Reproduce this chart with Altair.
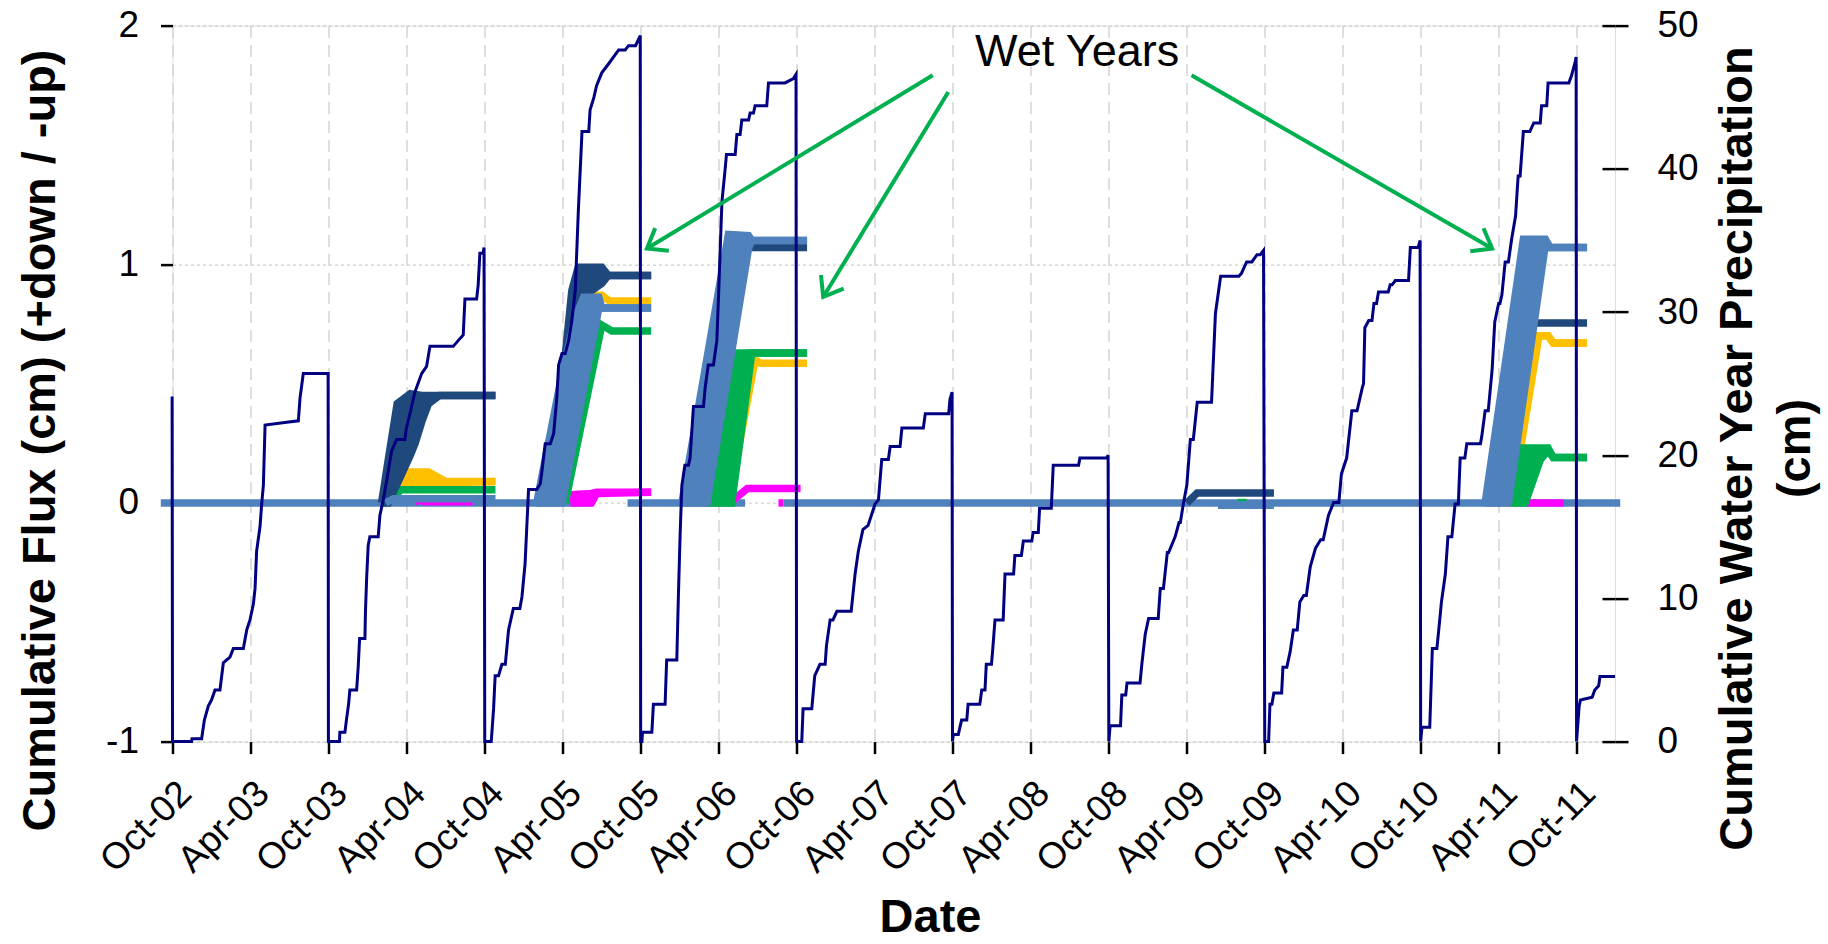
import altair as alt
import pandas as pd

# ------------------------------------------------------------------
# Values.
# Months (m) are counted from 1 October of the given water-year start.
# ------------------------------------------------------------------
BASE = "2002-10-01"
x_end = (2011, 12, 30)

tick_months = [(2002, 10), (2003, 4), (2003, 10), (2004, 4), (2004, 10), (2005, 4),
               (2005, 10), (2006, 4), (2006, 10), (2007, 4), (2007, 10), (2008, 4),
               (2008, 10), (2009, 4), (2009, 10), (2010, 4), (2010, 10), (2011, 4),
               (2011, 10)]
flux_ticks = [-1, 0, 1, 2]
prec_ticks = [0, 10, 20, 30, 40, 50]

# ---- cumulative water-year precipitation (cm) ----
wy_starts = ["2002-10-01", "2003-10-01", "2004-10-01", "2005-10-01", "2006-10-01",
             "2007-10-01", "2008-10-01", "2009-10-01", "2010-10-01", "2011-10-01"]

p03_m = [-0.03, 0, 1.47, 1.5, 2.24, 2.45, 2.76, 3.0, 3.27, 3.65, 3.91, 4.42, 4.68, 5.45, 5.71,
         5.96, 6.22, 6.35, 6.47, 6.73, 6.86, 6.99, 7.12, 8.78, 9.68, 9.81, 10.06, 11.97]
p03_v = [24.1, 0, 0, 0.2, 0.2, 1.5, 2.5, 2.9, 3.6, 3.6, 5.5, 5.9, 6.5, 6.5, 7.8,
         8.5, 9.6, 10.7, 13.3, 15.0, 16.6, 17.9, 22.1, 22.3, 22.4, 24.0, 25.7, 25.7]
p04_m = [0, 0.85, 0.88, 1.27, 1.4, 1.55, 1.65, 2.17, 2.29, 2.4, 2.81, 2.85, 2.94, 3.06, 3.19,
         3.83, 3.96, 4.22, 4.48, 4.86, 5.25, 5.88, 6.0, 6.3, 6.65, 7.17, 7.55, 7.81, 9.6, 9.98,
         10.37, 10.5, 11.4, 11.52, 11.65, 11.9, 11.97]
p04_v = [0, 0, 0.65, 0.65, 1.6, 2.6, 3.6, 3.6, 5.2, 7.2, 7.2, 9.1, 11.4, 13.7, 14.3,
         14.3, 15.8, 16.9, 18.2, 20.3, 21.1, 21.1, 21.9, 23.0, 24.4, 25.7, 26.2, 27.6, 27.6, 28.0,
         28.4, 30.9, 30.9, 31.9, 34.1, 34.1, 34.5]
p05_m = [0, 0.5, 0.68, 0.8, 1.06, 1.32, 1.58, 1.83, 2.2, 2.7, 2.86, 3.1, 3.25, 3.37, 4.0,
         4.27, 4.4, 4.65, 5.04, 5.3, 5.55, 5.68, 5.94, 6.19, 6.45, 6.7, 6.96, 7.2, 7.48, 8.0,
         8.1, 8.4, 8.6, 9.0, 9.5, 10.3, 10.8, 11.06, 11.6, 11.96]
p05_v = [0, 0, 2.3, 4.6, 4.6, 5.4, 5.4, 7.8, 9.3, 9.3, 10.1, 12.4, 15.3, 17.6, 17.6,
         18.0, 18.9, 20.8, 20.8, 21.5, 24.1, 26.3, 27.1, 27.1, 28.0, 29.4, 31.5, 37.1, 42.6, 42.6,
         44.1, 45.0, 45.8, 46.7, 47.3, 48.3, 48.3, 48.6, 48.6, 49.3]
p06_m = [0, 0.1, 0.14, 0.86, 0.98, 1.88, 2.0, 2.78, 2.9, 3.04, 3.17, 3.4, 3.68, 3.8, 4.06,
         4.83, 4.96, 5.2, 5.6, 5.86, 5.98, 6.25, 6.5, 6.6, 7.27, 7.4, 7.65, 7.78, 8.3, 8.42,
         8.68, 8.8, 9.7, 9.83, 11.1, 11.75, 11.95]
p06_v = [0, 0, 0.65, 0.65, 2.6, 2.6, 5.7, 5.7, 10.1, 14.6, 17.9, 19.3, 19.3, 19.8, 23.4,
         23.4, 24.7, 26.3, 26.3, 28.0, 30.9, 37.7, 40.0, 41.0, 41.0, 42.4, 42.4, 43.4, 43.4, 43.9,
         43.9, 44.4, 44.4, 46.0, 46.0, 46.3, 46.6]
p07_m = [0, 0.4, 0.5, 1.17, 1.4, 1.8, 2.2, 2.3, 2.58, 2.8, 3.1, 4.2, 4.5, 4.75, 5.1, 5.5,
         6.04, 6.3, 6.55, 7.06, 7.2, 7.96, 8.1, 9.75, 9.9, 11.7, 11.8, 11.96]
p07_v = [0, 0, 2.3, 2.3, 4.6, 5.4, 5.4, 6.7, 8.5, 8.5, 9.1, 9.1, 11.7, 13.3, 14.8, 15.1,
         16.6, 16.9, 19.7, 19.7, 20.6, 20.6, 21.9, 21.9, 22.9, 22.9, 23.9, 24.4]
p08_m = [0, 0.06, 0.45, 0.7, 1.1, 1.2, 2.1, 2.25, 2.5, 2.6, 3.0, 3.1, 3.27, 3.9, 4.04,
         4.7, 4.8, 5.3, 5.45, 6.1, 6.2, 6.6, 6.7, 7.6, 7.75, 9.7, 9.8, 11.86, 11.97]
p08_v = [0, 0.5, 0.5, 1.5, 1.5, 2.6, 2.6, 3.6, 3.6, 5.4, 5.4, 6.5, 8.5, 8.5, 11.7,
         11.7, 13.0, 13.0, 14.0, 14.0, 14.6, 14.6, 16.3, 16.3, 19.3, 19.3, 19.8, 19.8, 20.0]
p09_m = [0, 0.1, 0.9, 1.0, 1.3, 1.4, 2.4, 2.55, 2.8, 3.06, 3.8, 3.96, 4.2, 4.5, 4.6, 5.1,
         5.4, 5.5, 5.75, 6.0, 6.27, 6.5, 6.8, 7.9, 8.2, 8.6, 10.0, 10.2, 10.6, 11.0, 11.4,
         11.65, 11.9]
p09_v = [0, 1.1, 1.1, 3.25, 3.25, 4.1, 4.1, 5.5, 7.5, 8.6, 8.6, 10.7, 10.7, 13.2, 13.2, 14.3,
         15.3, 15.3, 16.7, 17.9, 21.1, 21.1, 23.7, 23.7, 29.9, 32.5, 32.5, 32.7, 33.5, 33.5, 34.0,
         34.0, 34.3]
p10_m = [0, 0.3, 0.4, 0.55, 0.7, 1.3, 1.4, 1.7, 1.96, 2.2, 2.5, 2.7, 3.0, 3.2, 3.5, 3.9,
         4.3, 4.5, 4.9, 5.3, 5.7, 5.9, 6.3, 6.7, 7.1, 7.5, 7.6, 7.7, 8.0, 8.25, 8.4, 8.6,
         8.75, 9.5, 9.65, 9.8, 10.04, 11.06, 11.2, 11.8, 11.95]
p10_v = [0, 0, 2.6, 2.6, 3.4, 3.4, 5.2, 5.2, 6.3, 7.8, 7.8, 9.75, 10.2, 10.2, 12.2, 13.5,
         14.1, 14.1, 15.8, 16.7, 16.7, 18.7, 19.8, 23.1, 23.1, 24.7, 25.0, 28.9, 29.4, 29.4, 30.6,
         30.6, 31.4, 31.4, 31.9, 31.9, 32.2, 32.2, 34.5, 34.5, 35.0]
p11_m = [0, 0.1, 0.7, 0.9, 1.25, 1.5, 1.6, 1.9, 2.1, 2.4, 2.65, 2.9, 3.04, 3.4, 3.55, 4.6,
         4.7, 4.96, 5.2, 5.5, 5.7, 6.0, 6.1, 6.25, 6.5, 6.75, 7.0, 7.3, 7.5, 7.65, 7.9, 8.4,
         8.7, 9.2, 9.3, 9.7, 9.8, 11.4, 11.6, 11.9, 11.96]
p11_v = [0, 1.0, 1.0, 6.5, 6.5, 8.8, 9.75, 11.7, 14.3, 14.3, 16.6, 16.6, 19.8, 19.8, 20.8, 20.8,
         21.3, 23.1, 23.1, 26.0, 29.3, 30.6, 30.6, 31.2, 33.5, 33.5, 35.1, 36.7, 39.5, 39.5, 42.6,
         42.6, 43.2, 43.2, 44.4, 44.4, 46.0, 46.0, 46.5, 47.5, 47.8]
p12_m = [0, 0.2, 0.3, 1.2, 1.4, 1.7, 1.8, 2.96]
p12_v = [0, 2.5, 2.9, 3.1, 3.6, 3.9, 4.55, 4.55]

prec_m = [p03_m, p04_m, p05_m, p06_m, p07_m, p08_m, p09_m, p10_m, p11_m, p12_m]
prec_v = [p03_v, p04_v, p05_v, p06_v, p07_v, p08_v, p09_v, p10_v, p11_v, p12_v]

# ---- cumulative flux (cm): bands (upper edge / lower edge) ----
navy04_m = [4.09, 4.6, 5.29, 6.3, 6.67, 7.18, 7.7, 8.55, 12.85]
navy04_hi = [0, 0.18, 0.416, 0.458, 0.455, 0.45, 0.45, 0.45, 0.45]
navy04_lo = [0, 0, 0.08, 0.2, 0.25, 0.34, 0.416, 0.45, 0.45]
gold04_m = [4.5, 5.7, 7.7, 9.04, 12.85]
gold04_hi = [0, 0.13, 0.13, 0.09, 0.09]
gold04_lo = [0, 0.07, 0.08, 0.085, 0.09]

navy05_m = [4.27, 5.68, 6.7, 7.1, 7.2, 9.0, 9.5, 12.8]
navy05_hi = [0, 0.345, 0.89, 0.97, 0.988, 0.988, 0.953, 0.953]
navy05_lo = [0, 0.05, 0.5, 0.75, 0.85, 0.92, 0.953, 0.953]
steel05_m = [4.0, 5.94, 6.96, 7.6, 8.77, 9.0, 12.8]
steel05_hi = [0, 0.54, 0.774, 0.862, 0.862, 0.817, 0.817]
steel05_lo = [0, 0, 0.294, 0.479, 0.817, 0.817, 0.817]
mag05_m = [6.6, 6.83, 8.2, 8.6, 12.8]
mag05_hi = [0, 0.035, 0.04, 0.045, 0.045]
mag05_lo = [0, 0, 0, 0.04, 0.045]

steel06_m = [3.17, 5.1, 6.75, 8.3, 8.55, 12.8]
steel06_hi = [0, 0.606, 1.125, 1.12, 1.10, 1.10]
steel06_lo = [0, 0, 0.55, 1.067, 1.10, 1.10]
green06_m = [5.1, 7.0, 7.27, 8.55, 12.8]
green06_hi = [0, 0.55, 0.628, 0.628, 0.628]
green06_lo = [0, 0, 0.109, 0.628, 0.628]

steel11_m = [4.96, 6.75, 7.9, 9.6, 9.96, 12.8]
steel11_hi = [0, 0.673, 1.105, 1.105, 1.07, 1.07]
steel11_lo = [0, 0, 0.438, 1.086, 1.07, 1.07]
gold11_m = [6.2, 7.0, 8.3, 9.1, 9.8, 10.2, 12.8]
gold11_hi = [0, 0.26, 0.70, 0.70, 0.70, 0.67, 0.67]
gold11_lo = [0, 0, 0.433, 0.70, 0.70, 0.67, 0.67]
green11_m = [6.75, 7.65, 8.04, 9.2, 9.8, 10.2, 12.8]
green11_hi = [0, 0.23, 0.23, 0.23, 0.23, 0.19, 0.19]
green11_lo = [0, 0, 0, 0.18, 0.22, 0.19, 0.19]

# ---- cumulative flux (cm): single lines ----
zero_m0 = [-0.9, 35.0, 46.98]        # months from Oct 2002
zero_m1 = [32.25, 44.04, 111.35]
green04_m = [4.4, 5.6, 12.85]
green04_v = [0, 0.055, 0.055]
steel04_m = [4.4, 5.0, 12.85]
steel04_v = [0, 0.018, 0.018]
mag04_m = [6.65, 7.0, 7.4, 11.1]
mag04_v = [0.005, 0.012, 0.005, 0.005]
gold05_m = [5.94, 7.48, 9.0, 9.6, 12.8]
gold05_v = [0, 0.87, 0.87, 0.846, 0.846]
green05_m = [6.19, 9.0, 9.78, 12.8]
green05_v = [0, 0.745, 0.72, 0.72]
navy06_m = [3.6, 7.0, 8.55, 12.8]
navy06_v = [0, 1.09, 1.07, 1.07]
gold06_m = [6.75, 8.8, 9.2, 12.8]
gold06_v = [0, 0.6, 0.585, 0.585]
mag06_m = [6.85, 8.2, 12.3]
mag06_v = [0, 0.06, 0.06]
mag06b_m = [10.6, 10.96]
mag06b_v = [0, 0]
navy09_m = [6.0, 6.8, 12.7]
navy09_v = [0, 0.042, 0.042]
steel09_m = [8.4, 12.7]
steel09_v = [-0.01, -0.01]
green09_m = [9.9, 10.6]
green09_v = [0.012, 0.012]
navy11_m = [5.2, 8.6, 12.8]
navy11_v = [0, 0.754, 0.754]
mag11_m = [8.04, 11.0]
mag11_v = [0, 0]

# ---- annotation (months from Oct 2002, flux units) ----
label_text = "Wet Years"
label_m = 69.58
label_F = 1.83
arrow_m0 = [58.47, 59.67, 78.38]
arrow_F0 = [1.792, 1.722, 1.792]
arrow_m1 = [36.49, 50.05, 101.5]
arrow_F1 = [1.066, 0.863, 1.066]
arrow_angle = [149, 121, 30]

# ------------------------------------------------------------------
STEEL, NAVY, GOLD, GREEN, MAG, PREC = "#4F81BD", "#1F497D", "#FFC000", "#00B050", "#FF00FF", "#000080"
ARROW = "#00B050"
FONT = "Liberation Sans"
LW = 7.5


def to_date(start, m):
    return (pd.Timestamp(start) + pd.Timedelta(days=m * 30.4375)).strftime("%Y-%m-%dT%H:%M:%S")


rows, i = [], 0
for start, ms, vs in zip(wy_starts, prec_m, prec_v):
    for m, v in zip(ms, vs):
        rows.append({"d": to_date(start, m), "P": v, "i": i})
        i += 1
prec_df = pd.DataFrame(rows)

bands = [
    ("navy04", NAVY, "2003-10-01", navy04_m, navy04_hi, navy04_lo),
    ("gold04", GOLD, "2003-10-01", gold04_m, gold04_hi, gold04_lo),
    ("navy05", NAVY, "2004-10-01", navy05_m, navy05_hi, navy05_lo),
    ("steel05", STEEL, "2004-10-01", steel05_m, steel05_hi, steel05_lo),
    ("mag05", MAG, "2004-10-01", mag05_m, mag05_hi, mag05_lo),
    ("steel06", STEEL, "2005-10-01", steel06_m, steel06_hi, steel06_lo),
    ("green06", GREEN, "2005-10-01", green06_m, green06_hi, green06_lo),
    ("steel11", STEEL, "2010-10-01", steel11_m, steel11_hi, steel11_lo),
    ("gold11", GOLD, "2010-10-01", gold11_m, gold11_hi, gold11_lo),
    ("green11", GREEN, "2010-10-01", green11_m, green11_hi, green11_lo),
]
lines = [
    ("green04", GREEN, "2003-10-01", green04_m, green04_v, LW),
    ("steel04", STEEL, "2003-10-01", steel04_m, steel04_v, LW),
    ("mag04", MAG, "2003-10-01", mag04_m, mag04_v, LW),
    ("gold05", GOLD, "2004-10-01", gold05_m, gold05_v, LW),
    ("green05", GREEN, "2004-10-01", green05_m, green05_v, LW),
    ("navy06", NAVY, "2005-10-01", navy06_m, navy06_v, LW),
    ("gold06", GOLD, "2005-10-01", gold06_m, gold06_v, LW),
    ("mag06", MAG, "2005-10-01", mag06_m, mag06_v, LW),
    ("mag06b", MAG, "2005-10-01", mag06b_m, mag06b_v, LW),
    ("navy09", NAVY, "2008-10-01", navy09_m, navy09_v, LW),
    ("steel09", STEEL, "2008-10-01", steel09_m, steel09_v, LW),
    ("green09", GREEN, "2008-10-01", green09_m, green09_v, 2.5),
    ("navy11", NAVY, "2010-10-01", navy11_m, navy11_v, LW),
    ("mag11", MAG, "2010-10-01", mag11_m, mag11_v, LW),
]
for k, c, s, ms, hi, lo in bands:
    lines.append((k + "_hi", c, s, ms, hi, LW))
    lines.append((k + "_lo", c, s, ms, lo, LW))

line_rows = []
for k, c, s, ms, vs, w in lines:
    for j, (m, v) in enumerate(zip(ms, vs)):
        line_rows.append({"k": k, "c": c, "d": to_date(s, m), "F": v, "w": w, "i": j})
line_df = pd.DataFrame(line_rows)

zero_rows = []
for j, (a, b) in enumerate(zip(zero_m0, zero_m1)):
    zero_rows.append({"k": f"z{j}", "d": to_date(BASE, a), "F": 0, "i": 0})
    zero_rows.append({"k": f"z{j}", "d": to_date(BASE, b), "F": 0, "i": 1})
zero_df = pd.DataFrame(zero_rows)

arrow_df = pd.DataFrame({
    "d0": [to_date(BASE, m) for m in arrow_m0], "F0": arrow_F0,
    "d1": [to_date(BASE, m) for m in arrow_m1], "F1": arrow_F1,
    "a": arrow_angle,
})
label_df = pd.DataFrame({"d": [to_date(BASE, label_m)], "F": [label_F], "t": [label_text]})

# ------------------------------------------------------------------
W, H = 1442.5, 716
x_scale = alt.Scale(domain=[alt.DateTime(year=2002, month=10, date=1),
                            alt.DateTime(year=x_end[0], month=x_end[1], date=x_end[2])])
x_axis = alt.Axis(
    values=[alt.DateTime(year=y, month=mo, date=1) for y, mo in tick_months],
    format="%b-%y", labelAngle=315, labelFontSize=37, labelColor="black", labelFont=FONT,
    labelPadding=21, labelFlush=False, labelOverlap=False, labelBound=False,
    tickSize=12, tickWidth=2.5, tickColor="black", domain=False,
    grid=True, gridColor="#D4D4D4", gridDash=[12, 7], gridWidth=1.5,
    title="Date", titleFontSize=47, titleFontWeight="bold", titleFont=FONT, titleColor="black",
    titleX=757.5, titleY=190, titleAlign="center", titleBaseline="alphabetic",
)
flux_scale = alt.Scale(domain=[-1, 2], nice=False, zero=False)
flux_axis = alt.Axis(
    values=flux_ticks, labelExpr="replace(datum.label, '\u2212', '-')",
    labelFontSize=37, labelColor="black", labelFont=FONT, labelPadding=22,
    tickSize=12, tickWidth=2.5, tickColor="black", domain=False,
    grid=True, gridColor="#D0D0D0", gridDash=[3, 3], gridWidth=1.3,
    title="Cumulative Flux (cm) (+down / -up)", titleFontSize=47, titleFontWeight="bold",
    titleFont=FONT, titleColor="black", titleAngle=270, titleX=-132.5, titleY=414.4,
    titleAlign="center", titleBaseline="middle",
)
prec_scale = alt.Scale(domain=[0, 50], nice=False)
prec_title = ["Cumulative Water Year Precipitation", "(cm)"]
prec_axis = alt.Axis(
    orient="right", values=prec_ticks, labelFontSize=37, labelColor="black", labelFont=FONT,
    labelPadding=29, tickSize=13, tickWidth=2.5, tickColor="black", domain=False, grid=False,
    title=prec_title, titleFontSize=47,
    titleFontWeight="bold", titleFont=FONT, titleColor="black", titleAngle=270,
    titleX=122, titleY=422.4, titleAlign="center", titleBaseline="middle", titleLineHeight=58,
)
# inner half of the crossing ticks on the right axis
prec_axis_inner = alt.Axis(
    orient="right", values=prec_ticks, offset=-13, labels=False, tickSize=13, tickWidth=2.5,
    tickColor="black", domain=False, grid=False, title=None,
)


def X(field):
    return alt.X(field, type="temporal", scale=x_scale, axis=x_axis, title="Date")


def YF(field):
    return alt.Y(field, type="quantitative", scale=flux_scale, axis=flux_axis,
                 title="Cumulative Flux (cm) (+down / -up)")


flux_layers = [
    alt.Chart(zero_df).mark_line(color=STEEL, strokeWidth=LW).encode(
        x=X("d"), y=YF("F"), detail="k:N", order="i:Q")
]
for c in [MAG, GOLD, GREEN, NAVY, STEEL]:
    for k, bc, s, ms, hi, lo in bands:
        if bc != c:
            continue
        bdf = pd.DataFrame({"d": [to_date(s, m) for m in ms], "hi": hi, "lo": lo})
        flux_layers.append(
            alt.Chart(bdf).mark_area(fill=c, opacity=1, interpolate="linear").encode(
                x=X("d"), y=YF("hi"), y2=alt.Y2("lo")))
    l = line_df[line_df.c == c]
    if len(l):
        flux_layers.append(
            alt.Chart(l).mark_line(color=c).encode(
                x=X("d"), y=YF("F"), detail="k:N", order="i:Q",
                strokeWidth=alt.StrokeWidth("w:Q", scale=None)))
flux = alt.layer(*flux_layers)

prec = alt.Chart(prec_df).mark_line(color=PREC, strokeWidth=3).encode(
    x=X("d"),
    y=alt.Y("P:Q", scale=prec_scale, axis=prec_axis, title=prec_title),
    order="i:Q",
)
prec_inner = alt.Chart(prec_df).mark_line(opacity=0).encode(
    x=X("d"), y=alt.Y("P:Q", scale=prec_scale, axis=prec_axis_inner), order="i:Q")

noaxis_y = lambda f: alt.Y(f, type="quantitative", scale=flux_scale, axis=None)
arrows = alt.Chart(arrow_df).mark_rule(color=ARROW, strokeWidth=4).encode(
    x=X("d0"), x2="d1:T", y=noaxis_y("F0"), y2="F1:Q")
heads = alt.Chart(arrow_df).mark_point(
    shape="M -1 -0.75 L 0 0 L -1 0.75", filled=False, size=1240, strokeWidth=4,
    color=ARROW, opacity=1, strokeJoin="miter").encode(
    x=X("d1"), y=noaxis_y("F1"), angle=alt.Angle("a:Q", scale=None))
label = alt.Chart(label_df).mark_text(
    fontSize=45, font=FONT, color="black", align="center", baseline="alphabetic").encode(
    x=X("d"), y=noaxis_y("F"), text="t:N")
annot = alt.layer(arrows, heads, label)

chart = alt.layer(flux, prec_inner, prec, annot).resolve_scale(y="independent").properties(
    width=W, height=H,
    autosize=alt.AutoSizeParams(type="none"),
    padding={"left": 172.5, "top": 25.6, "right": 213, "bottom": 202.4},
).configure_view(stroke="black", strokeWidth=3).configure(font=FONT)

chart.save("out.html", embed_options={"renderer": "svg", "actions": False})
